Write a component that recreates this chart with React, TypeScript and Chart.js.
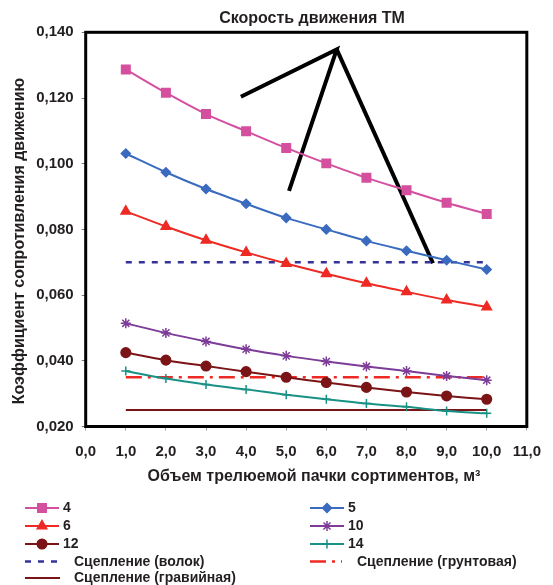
import React, { useEffect, useRef } from "react";
import { Chart, registerables } from "chart.js";
import { drawPoint } from "chart.js/helpers";

Chart.register(...registerables);

// ---- data ----
const xValues = [1, 2, 3, 4, 5, 6, 7, 8, 9, 10];
const series4 = [0.1287, 0.1216, 0.1151, 0.1099, 0.1048, 0.1001, 0.0957, 0.0919, 0.0881, 0.0847];
const series5 = [0.1031, 0.0974, 0.0923, 0.0878, 0.0835, 0.08, 0.0765, 0.0735, 0.0706, 0.0678];
const series6 = [0.0855, 0.0809, 0.0767, 0.073, 0.0696, 0.0665, 0.0636, 0.061, 0.0585, 0.0564];
const series10 = [0.0514, 0.0485, 0.0459, 0.0435, 0.0415, 0.0398, 0.0383, 0.0369, 0.0354, 0.0341];
const series12 = [0.0425, 0.0402, 0.0384, 0.0367, 0.035, 0.0334, 0.0319, 0.0305, 0.0293, 0.0283];
const series14 = [0.0369, 0.0346, 0.0328, 0.0313, 0.0297, 0.0283, 0.027, 0.026, 0.0247, 0.024];
const tractionTrail = [0.07, 0.07, 0.07, 0.07, 0.07, 0.07, 0.07, 0.07, 0.07, 0.07];
const tractionDirt = [0.035, 0.035, 0.035, 0.035, 0.035, 0.035, 0.035, 0.035, 0.035, 0.035];
const tractionGravel = [0.025, 0.025, 0.025, 0.025, 0.025, 0.025, 0.025, 0.025, 0.025, 0.025];
const arrowAX = [3.87, 6.26, 5.07];
const arrowAY = [0.1204, 0.1348, 0.0917];
const arrowBX = [6.26, 8.66];
const arrowBY = [0.1348, 0.0697];

const seriesLabels = ["4", "5", "6", "10", "12", "14", "Сцепление (волок)", "Сцепление (грунтовая)", "Сцепление (гравийная)"];
const chartTitle = "Скорость движения ТМ";
const xTitle = "Объем трелюемой пачки сортиментов, м³";
const yTitle = "Коэффициент сопротивления движению";

const FONT = '"Liberation Sans", Arial, sans-serif';
const TEXT = "#231f20";

const toXY = (xs: number[], ys: number[]) => xs.map((x, i) => ({ x, y: ys[i] }));

// legend layout: [datasetIndex, column, row]
const legendLayout: [number, number, number][] = [
  [0, 0, 0], [1, 1, 0],
  [2, 0, 1], [3, 1, 1],
  [4, 0, 2], [5, 1, 2],
  [6, 0, 3], [7, 1, 3],
  [8, 0, 4],
];

const overlayPlugin = {
  id: "overlay",
  afterDraw(chart: any) {
    const { ctx, chartArea } = chart;
    ctx.save();
    // plot border
    ctx.strokeStyle = "#000";
    ctx.lineWidth = 3;
    ctx.strokeRect(chartArea.left, chartArea.top, chartArea.right - chartArea.left, chartArea.bottom - chartArea.top);

    ctx.fillStyle = TEXT;
    ctx.font = `bold 16px ${FONT}`;
    ctx.textAlign = "center";
    ctx.textBaseline = "middle";
    ctx.fillText(chartTitle, 312, 19);
    ctx.fillText(xTitle, 314, 477);
    ctx.save();
    ctx.translate(20, 241);
    ctx.rotate(-Math.PI / 2);
    ctx.fillText(yTitle, 0, 0);
    ctx.restore();

    // legend
    const rowY = [508, 526, 544, 561.5, 578];
    const colX = [25, 310];
    ctx.textAlign = "left";
    legendLayout.forEach(([di, col, row]) => {
      const ds = chart.data.datasets[di];
      const x0 = colX[col];
      const y = rowY[row];
      ctx.save();
      ctx.strokeStyle = ds.borderColor;
      ctx.lineWidth = ds.borderWidth;
      let textX: number;
      if (ds.pointStyle && ds.pointRadius > 0) {
        ctx.setLineDash([]);
        ctx.beginPath();
        ctx.moveTo(x0, y);
        ctx.lineTo(x0 + 34, y);
        ctx.stroke();
        ctx.fillStyle = ds.pointBackgroundColor;
        ctx.strokeStyle = ds.pointBorderColor;
        ctx.lineWidth = 1.5;
        drawPoint(ctx, { pointStyle: ds.pointStyle, radius: ds.pointRadius, rotation: 0, borderWidth: 1.5 }, x0 + 17, y);
        textX = x0 + 38;
      } else {
        ctx.setLineDash(ds.borderDash || []);
        ctx.beginPath();
        ctx.moveTo(x0, y);
        ctx.lineTo(x0 + (ds.borderDash && ds.borderDash.length ? 32 : 35), y);
        ctx.stroke();
        textX = x0 + (col === 0 ? 49 : 47);
      }
      ctx.restore();
      ctx.fillStyle = TEXT;
      ctx.font = `bold 14px ${FONT}`;
      ctx.textBaseline = "middle";
      ctx.fillText(ds.label, textX, y + 0.5);
    });
    ctx.restore();
  },
};

function makeSeries(label: string, ys: number[], color: string, pointStyle: any, radius: number, extra: any = {}) {
  return {
    label,
    data: toXY(xValues, ys),
    borderColor: color,
    backgroundColor: color,
    pointBackgroundColor: color,
    pointBorderColor: color,
    pointStyle,
    pointRadius: radius,
    pointBorderWidth: 1.5,
    borderWidth: 2,
    tension: 0.3,
    ...extra,
  };
}

export default function App() {
  const canvasRef = useRef<HTMLCanvasElement | null>(null);

  useEffect(() => {
    if (!canvasRef.current) return;
    const datasets: any[] = [
      makeSeries(seriesLabels[0], series4, "#d4509f", "rect", 6),
      makeSeries(seriesLabels[1], series5, "#3a6bbf", "rectRot", 4.5),
      makeSeries(seriesLabels[2], series6, "#ee2a24", "triangle", 5.5),
      makeSeries(seriesLabels[3], series10, "#7d3c98", "star", 5),
      makeSeries(seriesLabels[4], series12, "#7b1416", "circle", 4.8),
      makeSeries(seriesLabels[5], series14, "#199185", "cross", 4.5),
      {
        label: seriesLabels[6],
        data: toXY(xValues, tractionTrail),
        borderColor: "#333399",
        borderWidth: 2.5,
        borderDash: [6, 7],
        pointRadius: 0,
        tension: 0,
      },
      {
        label: seriesLabels[7],
        data: toXY(xValues, tractionDirt),
        borderColor: "#ee2a24",
        borderWidth: 2.5,
        borderDash: [16, 6, 3, 6],
        pointRadius: 0,
        tension: 0,
      },
      {
        label: seriesLabels[8],
        data: toXY(xValues, tractionGravel),
        borderColor: "#7b1416",
        borderWidth: 2,
        pointRadius: 0,
        tension: 0,
      },
      {
        label: "arrowA",
        data: toXY(arrowAX, arrowAY),
        borderColor: "#000",
        borderWidth: 4,
        pointRadius: 0,
        tension: 0,
      },
      {
        label: "arrowB",
        data: toXY(arrowBX, arrowBY),
        borderColor: "#000",
        borderWidth: 4,
        pointRadius: 0,
        tension: 0,
      },
    ];

    const chart = new Chart(canvasRef.current, {
      type: "line",
      data: { datasets },
      options: {
        responsive: false,
        animation: false,
        devicePixelRatio: 1,
        layout: { padding: { left: 35.7, right: 26, top: 32.3, bottom: 118.5 } },
        plugins: {
          legend: { display: false },
          title: { display: false },
          tooltip: { enabled: false },
        },
        scales: {
          x: {
            type: "linear",
            min: 0,
            max: 11,
            ticks: {
              stepSize: 1,
              color: TEXT,
              font: { family: FONT, size: 15, weight: "bold" },
              padding: 12,
              maxRotation: 0,
              callback: (v: any) => Number(v).toFixed(1).replace(".", ","),
            },
            grid: { drawOnChartArea: false, drawTicks: true, tickLength: 4, color: "#999" },
            border: { display: false },
            afterFit: (s: any) => { s.height = 40; },
          },
          y: {
            type: "linear",
            min: 0.02,
            max: 0.14,
            ticks: {
              stepSize: 0.02,
              color: TEXT,
              font: { family: FONT, size: 15, weight: "bold" },
              padding: 8,
              callback: (v: any) => Number(v).toFixed(3).replace(".", ","),
            },
            grid: { drawOnChartArea: false, drawTicks: true, tickLength: 4, color: "#777" },
            border: { display: false },
            afterFit: (s: any) => { s.width = 50; },
          },
        },
      },
      plugins: [overlayPlugin],
    } as any);
    return () => chart.destroy();
  }, []);

  return (
    <div style={{ position: "absolute", left: 0, top: 0, width: 553, height: 585, background: "#fff" }}>
      <canvas ref={canvasRef} width={553} height={585} style={{ display: "block", width: 553, height: 585 }} />
    </div>
  );
}
